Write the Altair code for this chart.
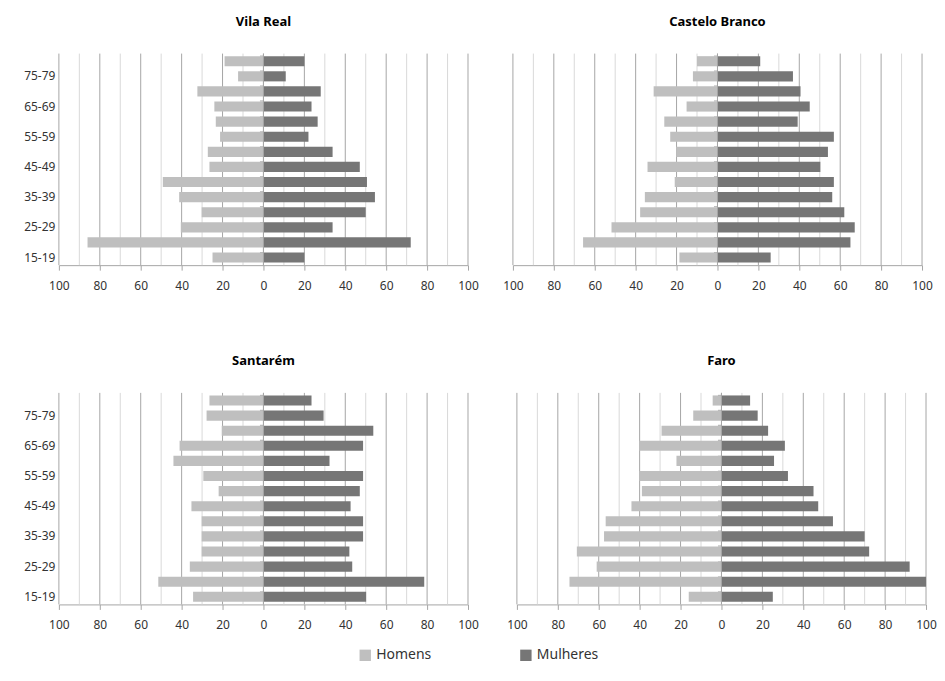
import altair as alt
import pandas as pd

ages = ["15-19", "20-24", "25-29", "30-34", "35-39", "40-44", "45-49",
        "50-54", "55-59", "60-64", "65-69", "70-74", "75-79", "80+"]
shown_ages = ["15-19", "25-29", "35-39", "45-49", "55-59", "65-69", "75-79"]

regions = ["Vila Real", "Castelo Branco", "Santarém", "Faro"]

vila_real_h = [24.9, 86, 40.4, 30.2, 41.2, 49.2, 26.4, 27.2, 21.2, 23.3, 24, 32.3, 12.4, 19]
vila_real_m = [20, 72, 33.8, 50, 54.5, 50.6, 47.1, 33.8, 22, 26.5, 23.5, 28, 10.9, 20]
castelo_h = [18.6, 65.7, 51.8, 37.8, 35.5, 20.9, 34.2, 20.2, 23.1, 26, 15.1, 31.2, 12, 10]
castelo_m = [26, 65, 67.1, 62, 56.1, 56.9, 50.3, 54, 56.9, 39.2, 45.1, 40.6, 36.9, 20.9]
santarem_h = [34.4, 51.4, 36, 30.2, 30.2, 30.2, 35.2, 21.9, 29.4, 44, 41, 20.4, 27.8, 26.4]
santarem_m = [50.2, 78.6, 43.4, 42, 48.7, 48.7, 42.6, 47.1, 48.7, 32.3, 48.7, 53.7, 29.4, 23.5]
faro_h = [16, 74.3, 61, 70.7, 57.4, 56.6, 44, 38.9, 40.2, 22, 40.2, 29.3, 13.8, 4.3]
faro_m = [25.1, 100, 92, 72.2, 70, 54.5, 47.3, 45, 32.5, 25.7, 31, 22.8, 17.7, 14]

series = {
    "Vila Real": (vila_real_h, vila_real_m),
    "Castelo Branco": (castelo_h, castelo_m),
    "Santarém": (santarem_h, santarem_m),
    "Faro": (faro_h, faro_m),
}

major_ticks = [-100, -80, -60, -40, -20, 0, 20, 40, 60, 80, 100]
minor_ticks = [-90, -70, -50, -30, -10, 10, 30, 50, 70, 90]

rows = []
for reg in regions:
    h, m = series[reg]
    for a, hv, mv in zip(ages, h, m):
        rows.append({"region": reg, "age": a, "sex": "Homens", "value": -hv})
        rows.append({"region": reg, "age": a, "sex": "Mulheres", "value": mv})
df = pd.DataFrame(rows)

major_df = pd.DataFrame({"v": major_ticks})
minor_df = pd.DataFrame({"v": minor_ticks})
zero_df = pd.DataFrame({"v": [0]})

FONT = "Noto Sans"
W, H = 410, 212
xscale = alt.Scale(domain=[-100, 100], nice=False, zero=False)
yscale = alt.Scale(paddingInner=0.33, paddingOuter=0.17)
age_order = list(reversed(ages))


def panel(reg, show_y):
    minor = alt.Chart(minor_df).mark_rule(color="#D9D9D9", strokeWidth=1).encode(
        x=alt.X("v:Q", scale=xscale))
    major = alt.Chart(major_df).mark_rule(color="#A6A6A6", strokeWidth=1).encode(
        x=alt.X("v:Q", scale=xscale))
    if show_y:
        yaxis = alt.Axis(values=shown_ages, ticks=False, domain=False, title=None,
                         labelFont=FONT, labelFontSize=12, labelColor="#333333",
                         labelPadding=4)
    else:
        yaxis = None
    bars = alt.Chart(df).transform_filter(alt.datum.region == reg).mark_bar(
        strokeWidth=0).encode(
        x=alt.X("value:Q", scale=xscale,
                axis=alt.Axis(values=major_ticks, labelExpr="abs(datum.value)",
                              grid=False, title=None, domainColor="#A6A6A6",
                              tickColor="#A6A6A6", tickSize=5, labelPadding=10,
                              labelFont=FONT, labelFontSize=12, labelColor="#333333",
                              labelFlush=False)),
        y=alt.Y("age:N", sort=age_order, scale=yscale, axis=yaxis),
        color=alt.Color("sex:N",
                        scale=alt.Scale(domain=["Homens", "Mulheres"],
                                        range=["#BFBFBF", "#767676"]),
                        legend=alt.Legend(orient="none", legendX=300, legendY=596,
                                          direction="horizontal", title=None,
                                          symbolType="square", symbolSize=130,
                                          symbolStrokeWidth=0,
                                          labelFont=FONT, labelFontSize=14,
                                          labelColor="#333333", columnPadding=87)),
    )
    # category-boundary ticks on the central (zero) axis
    tick_axis = alt.Chart(df).transform_filter(
        (alt.datum.region == reg) & (alt.datum.sex == "Homens")).mark_bar(
        opacity=0).encode(
        y=alt.Y("age:N", sort=age_order, scale=yscale,
                axis=alt.Axis(orient="right", offset=-(W / 2 + 4), labels=False,
                              domain=False, ticks=True, tickSize=4,
                              tickColor="#A6A6A6", bandPosition=0, title=None,
                              grid=False)),
    )
    zero = alt.Chart(zero_df).mark_rule(color="#A6A6A6", strokeWidth=1).encode(
        x=alt.X("v:Q", scale=xscale))
    return alt.layer(minor, major, bars, tick_axis, zero).resolve_axis(
        y="independent").properties(
        width=W, height=H,
        title=alt.TitleParams(reg, font=FONT, fontSize=13, fontWeight="bold",
                              color="#000000", offset=24, anchor="middle"))


top = alt.hconcat(panel("Vila Real", True), panel("Castelo Branco", False), spacing=23)
bottom = alt.hconcat(panel("Santarém", True), panel("Faro", False), spacing=27)
chart = alt.vconcat(top, bottom, spacing=64).properties(
    padding={"left": 15, "top": 7, "right": 0, "bottom": 0}
).configure_view(stroke=None)

chart.save("out.html", embed_options={"renderer": "svg", "actions": False})
